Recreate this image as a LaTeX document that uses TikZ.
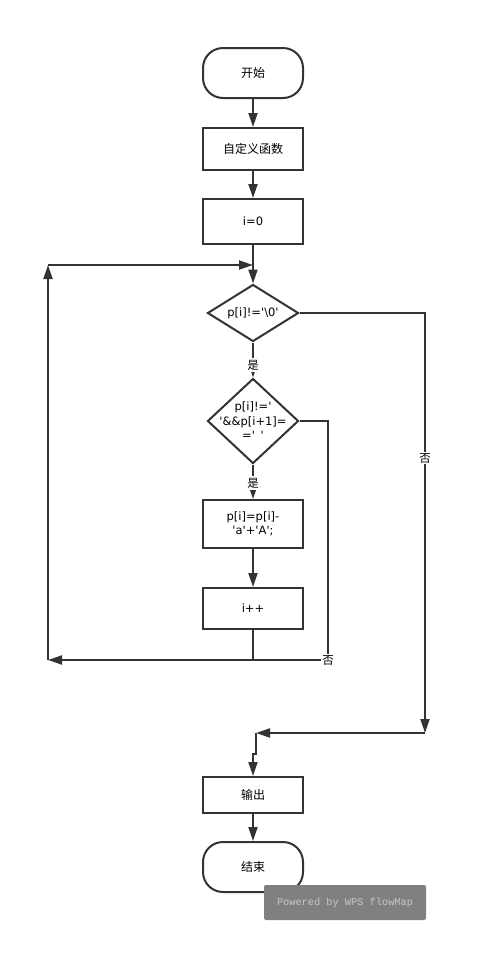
\documentclass[tikz,border=0pt]{standalone}
\usepackage{fontspec}
\setmainfont{DejaVu Sans}
\newfontfamily\cjk{Noto Sans CJK SC}
\newfontfamily\markfont{Liberation Mono}
\usetikzlibrary{positioning, arrows.meta, shapes.geometric, calc}
\definecolor{linegray}{HTML}{333333}
\definecolor{markgray}{HTML}{808080}
\definecolor{marktext}{HTML}{C8C8C8}
\newcommand{\squote}{\textquotesingle}

\begin{document}
\begin{tikzpicture}[x=1pt, y=-1pt,
    term/.style={draw=linegray, line width=2pt, rounded corners=20pt, minimum width=100pt,
                 minimum height=50pt, font=\cjk\fontsize{12}{14}\selectfont},
    box/.style={draw=linegray, line width=2pt, minimum width=100pt, minimum height=42pt,
                align=center, inner sep=2pt, font=\fontsize{11.5}{14}\selectfont},
    dia/.style={draw=linegray, line width=2pt, diamond, inner sep=0pt,
                minimum width=91pt, minimum height=57pt},
    txt/.style={align=center, inner sep=0pt, font=\fontsize{11.5}{14.5}\selectfont},
    arrow/.style={-{Triangle[length=14pt, width=9pt]}, line width=2pt, draw=linegray},
    line/.style={line width=2pt, draw=linegray},
    yn/.style={fill=white, inner sep=1.5pt, font=\cjk\fontsize{11.5}{12}\selectfont}
  ]
    \useasboundingbox (0,0) rectangle (488,954);

    % main column
    \node[term] (start) at (253,73) {开始};
    \node[box, font=\cjk\fontsize{12}{14}\selectfont] (def) at (253,149) {自定义函数};
    \node[box, minimum height=45pt] (init) at (253,221.5) {i=0};
    \node[dia] (cond) at (253,313) {};
    \node[txt] (condtxt) at (cond) {p[i]!=\squote\textbackslash0\squote};
    \node[dia, minimum height=85pt] (chk) at (253,421) {};
    \node[txt] (chktxt) at (chk) {p[i]!=\squote\\\squote\&\&p[i+1]=\\=\squote\enspace\squote};
    \node[box, minimum height=48pt] (upd) at (253,524) {p[i]=p[i]-\\\squote a\squote+\squote A\squote;};
    \node[box, minimum height=41pt] (inc) at (253,608.5) {i++};
    \node[box, minimum height=36pt, font=\cjk\fontsize{12}{14}\selectfont] (out) at (253,795) {输出};
    \node[term] (stop) at (253,867) {结束};

    % watermark
    \node[fill=markgray, rounded corners=2pt, minimum width=162pt, minimum height=35pt,
          text=marktext, font=\markfont\fontsize{10.3}{12}\selectfont] (mark) at (345,902.5)
          {Powered by WPS flowMap};

    % helper points
    \coordinate (join) at (253,265);
    \coordinate (lb) at (48,660);
    \coordinate (lt) at (48,265);
    \coordinate (nr) at (328,660);
    \coordinate (er) at (425,733);
    \coordinate (el) at (256,733);
    \coordinate (ej) at (253,754);

    % straight flow
    \draw[arrow] (start) -- (def);
    \draw[arrow] (def) -- (init);
    \draw[arrow] (init) -- (cond);
    \draw[arrow] (cond) -- (chk);
    \draw[arrow] (chk) -- (upd);
    \draw[arrow] (upd) -- (inc);
    \draw[arrow] (out) -- (stop);

    % loop back
    \draw[arrow] (inc.south) |- (lb);
    \draw[arrow] (lb) -- (lt);
    \draw[arrow] (lt) -- (join);
    \draw[line] (chk.east) -| (nr) -- (inc.south |- nr);

    % exit
    \draw[arrow] (cond.east) -| (er);
    \draw[arrow] (er) -- (el);
    \draw[arrow] (el) |- (ej) -- (out);

    % branch labels
    \node[yn] (yes1) at (253,365) {是};
    \node[yn] (yes2) at (253,483) {是};
    \node[yn] (no1) at (425,458) {否};
    \node[yn] (no2) at (328,660) {否};
\end{tikzpicture}
\end{document}
